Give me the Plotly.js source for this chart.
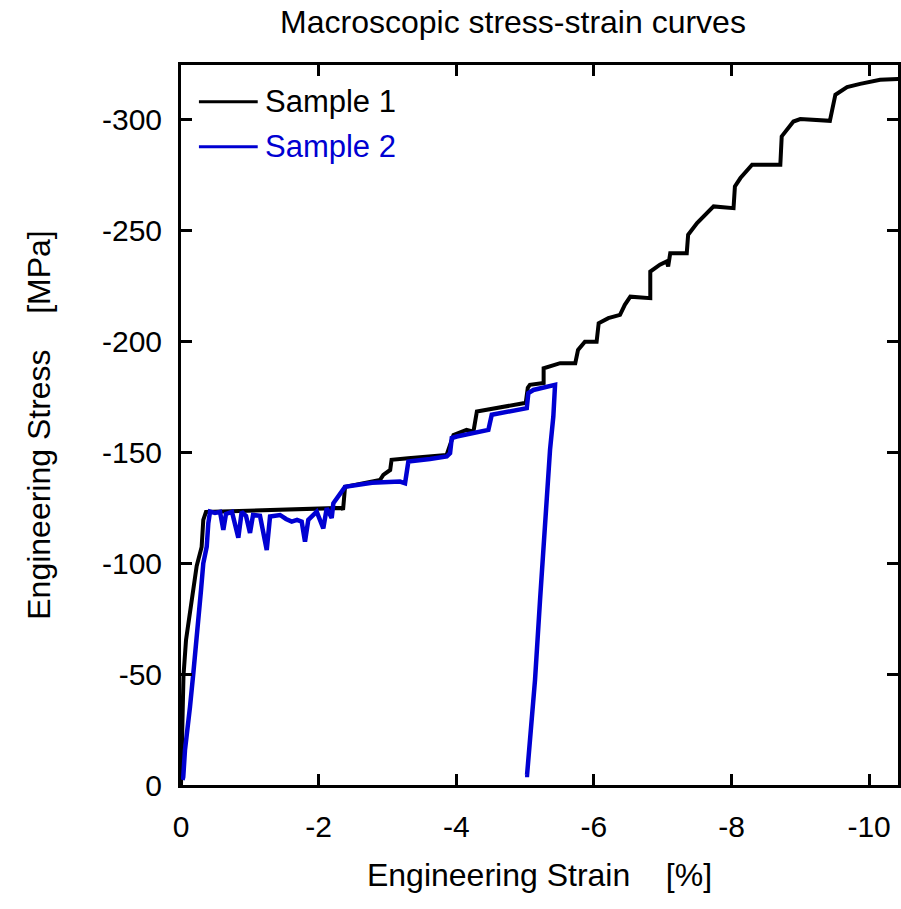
<!DOCTYPE html>
<html>
<head>
<meta charset="utf-8">
<script src="https://cdn.plot.ly/plotly-3.0.1.min.js"></script>
<style>html,body{margin:0;padding:0;background:#fff;}</style>
</head>
<body>
<div id="chart" style="width:901px;height:909px;"></div>
<script>
// Sample 1 (black)
var strain1 = [0, -0.015, -0.036, -0.073, -0.145, -0.228, -0.30, -0.324, -0.363, -2.34, -2.355, -2.384, -2.892, -2.94, -3.04, -3.06, -3.30, -3.86, -3.96, -4.15, -4.25, -4.30, -4.975, -5.01, -5.04, -5.07, -5.27, -5.27, -5.51, -5.73, -5.77, -5.87, -6.04, -6.07, -6.21, -6.38, -6.45, -6.53, -6.82, -6.82, -6.96, -7.06, -7.08, -7.11, -7.35, -7.37, -7.50, -7.59, -7.74, -8.03, -8.05, -8.13, -8.30, -8.71, -8.73, -8.90, -9.00, -9.43, -9.51, -9.68, -9.87, -10.16, -10.43];
var stress1 = [0, -20.3, -49.2, -65.4, -80.3, -98.8, -107.4, -119.6, -123.2, -125.0, -124.1, -134.5, -137.6, -139.9, -142.1, -146.7, -147.4, -148.9, -157.9, -160.2, -159.4, -168.5, -172.2, -172.4, -179.2, -180.5, -181.3, -188.0, -190.3, -190.3, -196.3, -200.0, -200.0, -208.3, -210.6, -212.1, -216.6, -220.3, -219.6, -231.6, -234.7, -236.2, -233.9, -239.9, -239.9, -248.2, -253.5, -256.5, -261.0, -260.2, -270.0, -273.8, -279.8, -279.8, -292.6, -299.3, -300.4, -299.6, -311.4, -314.8, -316.3, -318.1, -318.5];

// Sample 2 (blue)
var strain2 = [-0.022, -0.033, -0.058, -0.106, -0.131, -0.179, -0.228, -0.251, -0.291, -0.324, -0.374, -0.397, -0.422, -0.494, -0.567, -0.615, -0.654, -0.741, -0.833, -0.882, -0.945, -1.003, -1.047, -1.148, -1.246, -1.294, -1.439, -1.526, -1.609, -1.686, -1.754, -1.802, -1.850, -1.972, -2.068, -2.118, -2.190, -2.214, -2.311, -2.384, -2.776, -3.183, -3.256, -3.304, -3.619, -3.862, -3.910, -3.935, -4.007, -4.394, -4.467, -4.516, -4.927, -5.025, -5.048, -5.121, -5.436, -5.411, -5.363, -5.291, -5.218, -5.145, -5.073, -5.029, -5.00];
var stress2 = [-2.3, -3.7, -15.8, -26.3, -35.3, -50.4, -65.4, -74.5, -88.0, -100.0, -107.5, -118.1, -123.3, -122.7, -123.2, -115.1, -122.3, -123.2, -111.5, -123.2, -121.4, -113.7, -121.8, -121.4, -106.0, -121.1, -121.8, -120.0, -118.8, -119.6, -118.8, -109.8, -119.6, -123.3, -115.8, -124.9, -120.4, -127.1, -131.6, -134.5, -136.3, -136.9, -136.1, -145.9, -147.1, -148.2, -149.7, -156.5, -157.2, -159.4, -160.2, -167.0, -169.2, -170.0, -176.8, -178.2, -180.5, -166.2, -151.2, -119.6, -83.5, -47.4, -20.3, -4.5, -4.5];

var seriesNames = ["Sample 1", "Sample 2"];
var seriesColors = ["#000000", "#0000D2"];

var xTickVals = [0, -2, -4, -6, -8, -10];
var xTickText = ["0", "-2", "-4", "-6", "-8", "-10"];
var yTickVals = [0, -50, -100, -150, -200, -250, -300];
var yTickText = ["0", "-50", "-100", "-150", "-200", "-250", "-300"];

var FONT = "Liberation Sans, Arial, sans-serif";
var sp = "\u00A0\u00A0\u00A0\u00A0";

var traces = [
  {x: strain1, y: stress1, mode: "lines", name: seriesNames[0],
   line: {color: seriesColors[0], width: 4}},
  {x: strain2, y: stress2, mode: "lines", name: seriesNames[1],
   line: {color: seriesColors[1], width: 4.5}}
];

// custom legend (long line samples like the original)
var legY = [0.949, 0.8865];
var shapes = [], annotations = [];
for (var i = 0; i < seriesNames.length; i++) {
  shapes.push({type: "line", xref: "paper", yref: "paper",
    x0: 0.025, x1: 0.107, y0: legY[i], y1: legY[i],
    line: {color: seriesColors[i], width: 3}});
  annotations.push({xref: "paper", yref: "paper", x: 0.114, y: legY[i],
    xanchor: "left", yanchor: "middle", showarrow: false,
    text: seriesNames[i], font: {family: FONT, size: 31, color: seriesColors[i]}});
}

var layout = {
  width: 901, height: 909,
  margin: {l: 181, r: 3, t: 65, b: 124},
  paper_bgcolor: "#ffffff", plot_bgcolor: "#ffffff",
  showlegend: false,
  font: {family: FONT, color: "#000"},
  title: {text: "Macroscopic stress-strain curves", font: {family: FONT, size: 32, color: "#000"},
    x: 0.463, xref: "paper", xanchor: "center", y: 0.976, yref: "container", yanchor: "middle"},
  xaxis: {
    range: [0, -10.42], tickvals: xTickVals, ticktext: xTickText,
    ticks: "inside", ticklen: 11, tickwidth: 3, tickcolor: "#000",
    showline: true, linewidth: 3, linecolor: "#000", mirror: "ticks",
    showgrid: false, zeroline: false,
    tickfont: {family: FONT, size: 30, color: "#000"},
    ticklabelstandoff: 13,
    title: {text: "Engineering Strain" + sp + "[%]", font: {family: FONT, size: 32, color: "#000"}, standoff: 22},
    automargin: false
  },
  yaxis: {
    range: [0, -324.8], tickvals: yTickVals, ticktext: yTickText,
    ticks: "inside", ticklen: 11, tickwidth: 3, tickcolor: "#000",
    showline: true, linewidth: 3, linecolor: "#000", mirror: "ticks",
    showgrid: false, zeroline: false,
    tickfont: {family: FONT, size: 30, color: "#000"},
    ticklabelstandoff: 10,
    title: {text: "Engineering Stress" + sp + "[MPa]", font: {family: FONT, size: 32, color: "#000"}, standoff: 42},
    automargin: false
  },
  shapes: shapes,
  annotations: annotations
};

Plotly.newPlot("chart", traces, layout, {staticPlot: true, displayModeBar: false});
</script>
</body>
</html>
